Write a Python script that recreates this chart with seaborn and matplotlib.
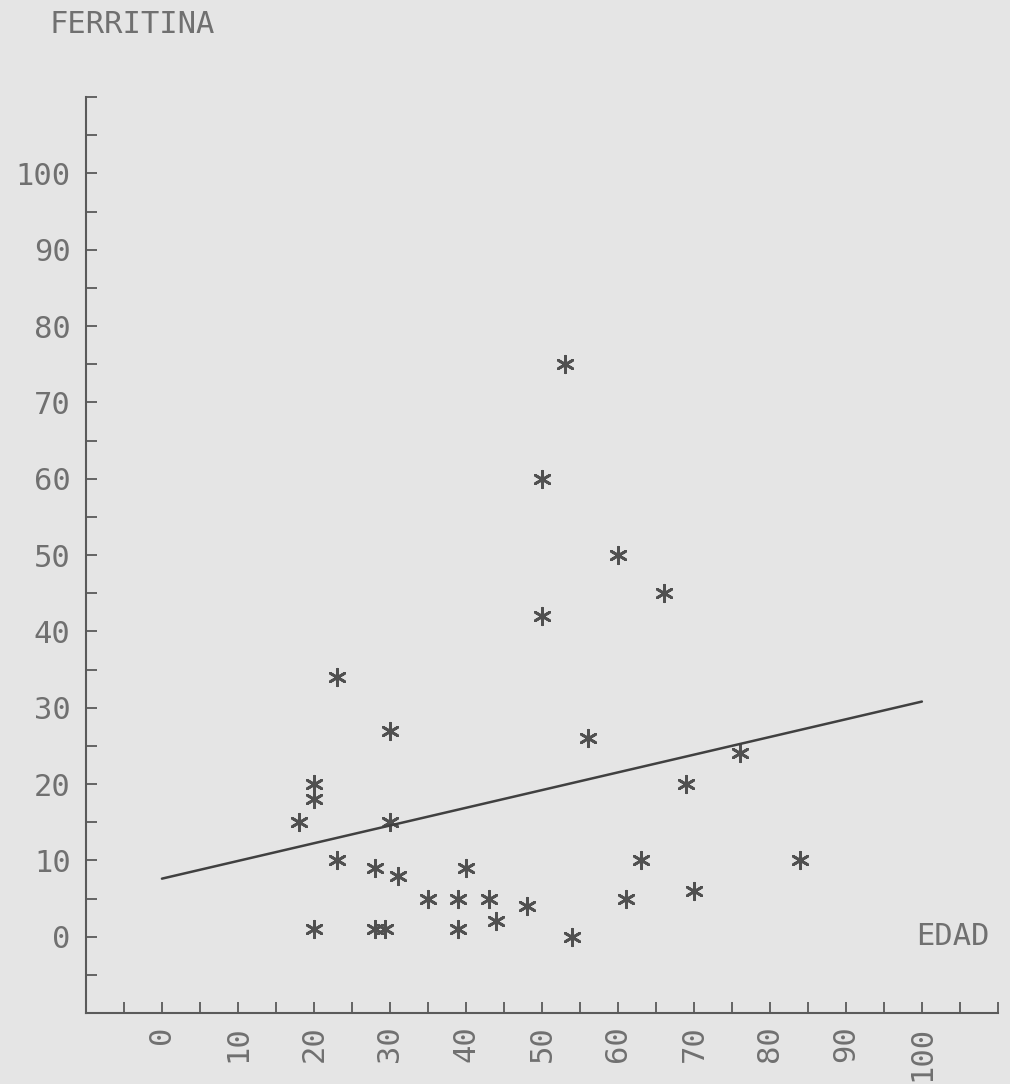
import matplotlib
matplotlib.use("Agg")
import matplotlib.pyplot as plt
from matplotlib.ticker import FixedLocator
import seaborn as sns
import pandas as pd

# --- data ---
edad = [18, 20, 20, 20, 23, 23, 28, 28, 29.3, 30, 30, 31, 35, 39, 39, 40,
        43, 44, 48, 50, 50, 53, 54, 56, 60, 61, 63, 66, 69, 70, 76, 84]
ferritina = [15, 20, 18, 1, 34, 10, 9, 1, 1, 27, 15, 8, 5, 5, 1, 9,
             5, 2, 4, 60, 42, 75, 0, 26, 50, 5, 10, 45, 20, 6, 24, 10]
line_edad = [0, 100]
line_ferritina = [7.6, 30.8]
label_ticks = [0, 10, 20, 30, 40, 50, 60, 70, 80, 90, 100]
minor_ticks = [-5, 5, 15, 25, 35, 45, 55, 65, 75, 85, 95, 105, 110]
x_label = "EDAD"
y_label = "FERRITINA"

df = pd.DataFrame({"EDAD": edad, "FERRITINA": ferritina})
dline = pd.DataFrame({"EDAD": line_edad, "FERRITINA": line_ferritina})

sns.set_style("ticks")
bg = "#e5e5e5"
ink = "#707070"
plt.rcParams["font.family"] = ["DejaVu Sans Mono", "DejaVu Sans"]

fig = plt.figure(figsize=(10.10, 10.84), dpi=100, facecolor=bg)
ax = fig.add_axes([0.0851, 0.0655, 0.9029, 0.845])
ax.set_facecolor(bg)

sns.lineplot(data=dline, x="EDAD", y="FERRITINA", ax=ax, color="#404040",
             linewidth=1.8, legend=False)
sns.scatterplot(data=df, x="EDAD", y="FERRITINA", ax=ax, marker=(6, 2, 0),
                s=140, color="#505050", linewidth=2.0, legend=False)

ax.set_xlim(-10, 110)
ax.set_ylim(-10, 110)
ax.set_xlabel("")
ax.set_ylabel("")

for side in ["top", "right"]:
    ax.spines[side].set_visible(False)
for side in ["left", "bottom"]:
    ax.spines[side].set_color("#5a5a5a")
    ax.spines[side].set_linewidth(1.5)

ax.xaxis.set_major_locator(FixedLocator(label_ticks))
ax.yaxis.set_major_locator(FixedLocator(label_ticks))
ax.xaxis.set_minor_locator(FixedLocator(minor_ticks))
ax.yaxis.set_minor_locator(FixedLocator(minor_ticks))
ax.set_xticklabels([str(v) for v in label_ticks], rotation=90)
ax.set_yticklabels([str(v) for v in label_ticks])

ax.tick_params(axis="both", which="both", direction="in", length=8,
               width=1.3, color="#5a5a5a", labelcolor=ink, labelsize=22)
ax.tick_params(axis="y", which="major", pad=11)
ax.tick_params(axis="x", which="major", pad=9)

ax.text(99.2, 0, x_label, ha="left", va="center", fontsize=22, color=ink)
fig.text(0.0495, 0.977, y_label, ha="left", va="center", fontsize=22, color=ink)

fig.savefig("out.png", dpi=100, facecolor=bg)
